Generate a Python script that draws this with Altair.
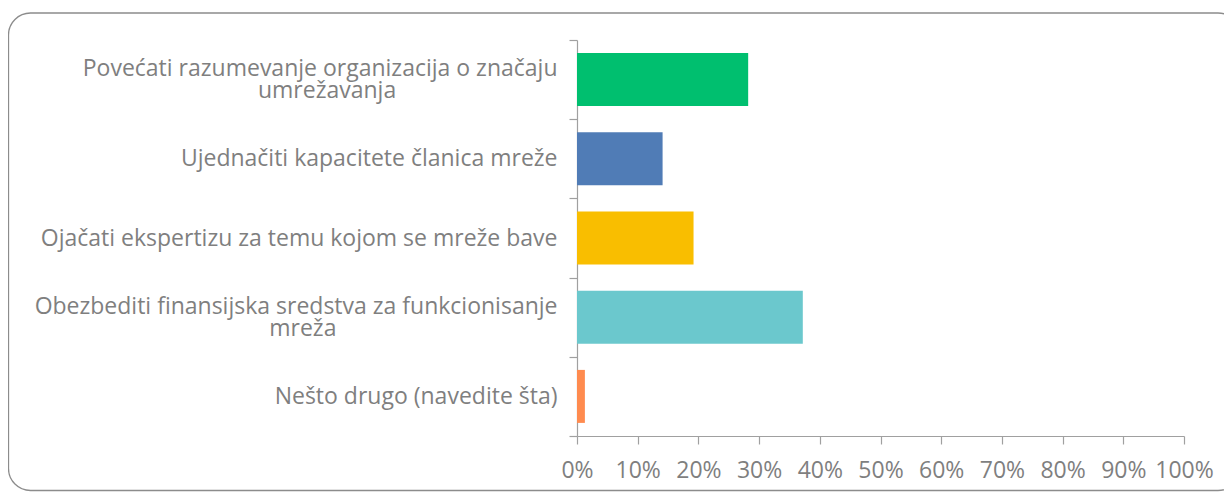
import altair as alt
import pandas as pd

categories = [
    "Povećati razumevanje organizacija o značaju\numrežavanja",
    "Ujednačiti kapacitete članica mreže",
    "Ojačati ekspertizu za temu kojom se mreže bave",
    "Obezbediti finansijska sredstva za funkcionisanje\nmreža",
    "Nešto drugo (navedite šta)",
]
shares = [0.282, 0.141, 0.192, 0.372, 0.013]
colors = ["#00BF6F", "#507CB6", "#F9BE00", "#6BC8CD", "#FF8B4F"]
x_ticks = [i / 10 for i in range(11)]

df = pd.DataFrame({"category": categories, "share": shares})

PLOT_W, PLOT_H = 607, 396
PAD = {"left": 569, "top": 32, "right": 40, "bottom": 56}
LABEL_GRAY = "#7F7F7F"
AXIS_GRAY = "#A0A0A0"
FONT = "Open Sans"
FS = 23

# centre the second line of a wrapped label under the first (labels are right-aligned):
# pad it with no-break spaces, closed by a zero-width space so the padding is not trimmed
L0 = "split(datum.label, '\\n')[0]"
L1 = "split(datum.label, '\\n')[1]"
label_expr = (
    f"length(split(datum.label, '\\n')) > 1 ? "
    f"[{L0}, pad({L1}, length({L1}) + round(0.85 * (length({L0}) - length({L1}))), '\u00a0', 'right') + '\u200b']"
    f" : datum.label"
)
multi_line_test = "indexof(datum.label, '\\n') >= 0"

bars = alt.Chart(df).mark_bar(size=53).encode(
    y=alt.Y(
        "category:N",
        sort=categories,
        title=None,
        scale=alt.Scale(paddingInner=0, paddingOuter=0),
        axis=alt.Axis(
            labelExpr=label_expr,
            labelFont=FONT,
            labelFontSize=FS,
            labelColor=LABEL_GRAY,
            labelLineHeight=22,
            labelBaseline={
                "condition": {"test": multi_line_test, "value": "line-bottom"},
                "value": "middle",
            },
            labelPadding=12,
            labelLimit=0,
            tickBand="extent",
            tickSize=8,
            tickColor=AXIS_GRAY,
            domainColor=AXIS_GRAY,
            tickWidth=1.2,
            domainWidth=1.2,
        ),
    ),
    x=alt.X(
        "share:Q",
        title=None,
        scale=alt.Scale(domain=[0, 1], nice=False),
        axis=alt.Axis(
            values=x_ticks,
            format=".0%",
            labelFont=FONT,
            labelFontSize=FS,
            labelColor=LABEL_GRAY,
            labelPadding=15,
            labelFlush=False,
            tickSize=8,
            tickColor=AXIS_GRAY,
            domainColor=AXIS_GRAY,
            tickWidth=1.2,
            domainWidth=1.2,
            grid=False,
        ),
    ),
    color=alt.Color(
        "category:N",
        sort=categories,
        scale=alt.Scale(domain=categories, range=colors),
        legend=None,
    ),
)

frame = alt.Chart(alt.Data(values=[{"k": 1}])).mark_rect(
    fill=None,
    stroke="#8C8C8C",
    strokeWidth=1.3,
    cornerRadius=22,
    clip=False,
).encode(
    x=alt.value(-568.5),
    x2=alt.value(663),
    y=alt.value(-27),
    y2=alt.value(PLOT_H + 54.5),
)

chart = alt.layer(frame, bars).properties(
    width=PLOT_W,
    height=PLOT_H,
    autosize=alt.AutoSizeParams(type="none"),
    padding=PAD,
).configure_view(stroke=None)

chart.save("out.html", embed_options={"renderer": "svg", "actions": False})
